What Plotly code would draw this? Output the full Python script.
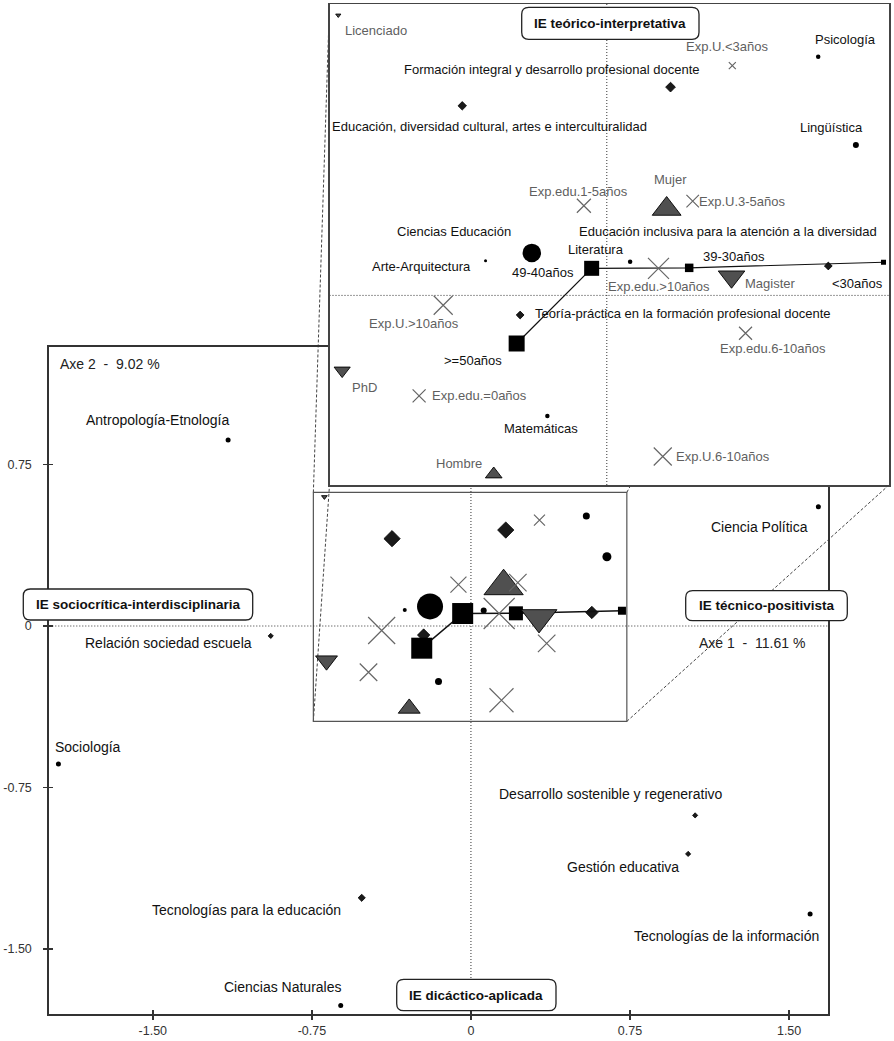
import plotly.graph_objects as go

W, H = 894, 1041

# ---------------- data ----------------
disc_names = ["Antropología-Etnología", "Ciencia Política", "Sociología",
              "Tecnologías de la información", "Ciencias Naturales", "Psicología",
              "Lingüística", "Ciencias Educación", "Arte-Arquitectura", "Literatura",
              "Matemáticas"]
disc_x = [-1.145, 1.638, -1.945, 1.599, -0.614, 0.544, 0.641, -0.193, -0.312, 0.060, -0.153]
disc_y = [0.864, 0.554, -0.641, -1.338, -1.763, 0.511, 0.322, 0.091, 0.074, 0.072, -0.258]

line_names = ["Relación sociedad escuela", "Desarrollo sostenible y regenerativo",
              "Gestión educativa", "Tecnologías para la educación",
              "Educación, diversidad cultural, artes e interculturalidad",
              "Formación integral y desarrollo profesional docente",
              "Teoría-práctica en la formación profesional docente",
              "Educación inclusiva para la atención a la diversidad"]
line_x = [-0.944, 1.057, 1.024, -0.515, -0.372, 0.164, -0.223, 0.570]
line_y = [-0.046, -0.880, -1.059, -1.263, 0.406, 0.446, -0.042, 0.063]

age_names = ["&gt;=50años", "49-40años", "39-30años", "&lt;30años"]
age_x = [-0.232, -0.039, 0.212, 0.712]
age_y = [-0.103, 0.058, 0.059, 0.071]

sex_names = ["Mujer", "Hombre"]
sex_x = [0.154, -0.291]
sex_y = [0.185, -0.383]

deg_names = ["Licenciado", "Magister", "PhD"]
deg_x = [-0.691, 0.321, -0.681]
deg_y = [0.600, 0.040, -0.161]

exp_names = ["Exp.U.&lt;3años", "Exp.U.3-5años", "Exp.U.6-10años", "Exp.U.&gt;10años",
             "Exp.edu.=0años", "Exp.edu.1-5años", "Exp.edu.6-10años", "Exp.edu.&gt;10años"]
exp_x = [0.323, 0.221, 0.144, -0.421, -0.483, -0.059, 0.357, 0.133]
exp_y = [0.492, 0.202, -0.345, -0.021, -0.215, 0.192, -0.081, 0.058]

x_ticks = [-1.5, -0.75, 0, 0.75, 1.5]
x_ticktext = ["-1.50", "-0.75", "0", "0.75", "1.50"]
y_ticks = [-1.5, -0.75, 0, 0.75]
y_ticktext = ["-1.50", "-0.75", "0", "0.75"]

axis1_label = "Axe 1\u00a0\u00a0-\u00a0\u00a011.61 %"
axis2_label = "Axe 2\u00a0\u00a0-\u00a0\u00a09.02 %"
pole_labels = ["IE teórico-interpretativa", "IE sociocrítica-interdisciplinaria",
               "IE técnico-positivista", "IE dicáctico-aplicada"]

# ---------------- styles / geometry ----------------
FONT = "Liberation Sans, Arial, sans-serif"
MAIN_L, MAIN_R, MAIN_T, MAIN_B = 49.3, 827.7, 346.7, 1014.0
INS_L, INS_R, INS_T, INS_B = 329.5, 889.0, 4.0, 485.0
main_xr = [-1.988, 1.682]
main_yr = [-1.803, 1.298]
ins_xr = [-0.7136, 0.7262]
ins_yr = [-0.4060, 0.6240]
zoom_x = [-0.743, 0.735]
zoom_y = [-0.443, 0.621]

disc_size = {"main": [5, 5, 5, 5, 5, 7, 9, 26, 4, 6, 7],
             "ins": [4, 4, 4, 4, 4, 4.5, 6, 18.5, 3, 4.5, 4.5]}
line_size = {"main": [4, 4, 4, 5.5, 12.5, 12.5, 9.5, 9.5],
             "ins": [3, 3, 3, 4, 6.5, 7.5, 6, 6]}
age_size = {"main": [21, 21, 14, 8], "ins": [16, 15, 8.5, 5]}
sex_size = {"main": [34, 19], "ins": [25, 14.5]}
deg_size = {"main": [5, 31, 19], "ins": [4.5, 23, 14]}
exp_size = {"main": [11, 17.5, 24, 27, 17.5, 16, 17.5, 31],
            "ins": [7, 12.5, 18, 19, 13, 14, 13, 21]}

GRAY_T = "#5f5f5f"
DARK_T = "#111111"
gray_labels = set(exp_names + sex_names + deg_names)

# label offsets in pixels (dx, dy downward, anchor)
main_lab = {
    "Antropología-Etnología": (-70.3, -20, "center"),
    "Ciencia Política": (-59, 20.6, "center"),
    "Relación sociedad escuela": (-102.7, 7.3, "center"),
    "Sociología": (-4.3, -17.3, "left"),
    "Tecnologías para la educación": (-19.4, 12.3, "right"),
    "Ciencias Naturales": (2, -18, "right"),
    "Desarrollo sostenible y regenerativo": (-84.3, -21.3, "center"),
    "Gestión educativa": (-8, 13.3, "right"),
    "Tecnologías de la información": (10, 22, "right"),
}
ins_lab = {
    "Licenciado": (38.2, 15.5, "center"),
    "Formación integral y desarrollo profesional docente": (-119, -17.3, "center"),
    "Educación, diversidad cultural, artes e interculturalidad": (27.4, 20.7, "center"),
    "Exp.U.&lt;3años": (-4.5, -19, "center"),
    "Psicología": (27.2, -17.4, "center"),
    "Lingüística": (-24.2, -17.3, "center"),
    "Mujer": (4.2, -29.7, "center"),
    "Exp.edu.1-5años": (-5.7, -14, "center"),
    "Exp.U.3-5años": (5.6, 0, "left"),
    "Ciencias Educación": (-77.7, -21.7, "center"),
    "Arte-Arquitectura": (-64, 5.7, "center"),
    "49-40años": (-48.7, 4, "center"),
    "Literatura": (-34.2, -12.7, "center"),
    "Educación inclusiva para la atención a la diversidad": (-100.5, -34.3, "center"),
    "Exp.edu.&gt;10años": (0.7, 18.4, "center"),
    "39-30años": (44.7, -11, "center"),
    "Magister": (39, 6.6, "center"),
    "&lt;30años": (-25.5, 21.7, "center"),
    "Teoría-práctica en la formación profesional docente": (163.3, -1.7, "center"),
    "Exp.U.&gt;10años": (-29.3, 18.3, "center"),
    "&gt;=50años": (-43.7, 16.7, "center"),
    "PhD": (22.6, 16.7, "center"),
    "Exp.edu.=0años": (12, 0, "left"),
    "Matemáticas": (-6.5, 13, "center"),
    "Hombre": (-35, -10.3, "center"),
    "Exp.edu.6-10años": (27.6, 15, "center"),
    "Exp.U.6-10años": (12.3, 0, "left"),
}

fig = go.Figure()

panels = [("main", "x", "y", main_xr, main_yr, 1.5),
          ("ins", "x2", "y2", ins_xr, ins_yr, 1.2)]

for key, xa, ya, xr, yr, lw in panels:
    # dotted axes through the origin
    fig.add_trace(go.Scatter(x=[0, 0], y=yr, mode="lines", xaxis=xa, yaxis=ya,
                             line=dict(color="#333", width=1, dash="1px,2px"),
                             hoverinfo="skip"))
    fig.add_trace(go.Scatter(x=xr, y=[0, 0], mode="lines", xaxis=xa, yaxis=ya,
                             line=dict(color="#333", width=1, dash="1px,2px"),
                             hoverinfo="skip"))
    fig.add_trace(go.Scatter(x=disc_x, y=disc_y, mode="markers", xaxis=xa, yaxis=ya,
                             text=disc_names, hoverinfo="text",
                             marker=dict(symbol="circle", size=disc_size[key], opacity=1,
                                         color="#000000", line=dict(width=0))))
    fig.add_trace(go.Scatter(x=line_x, y=line_y, mode="markers", xaxis=xa, yaxis=ya,
                             text=line_names, hoverinfo="text",
                             marker=dict(symbol="diamond", size=line_size[key], opacity=1,
                                         color="#1a1a1a", line=dict(color="#000", width=0.8))))
    fig.add_trace(go.Scatter(x=age_x, y=age_y, mode="lines+markers", xaxis=xa, yaxis=ya,
                             text=age_names, hoverinfo="text",
                             line=dict(color="#111111", width=lw),
                             marker=dict(symbol="square", size=age_size[key], opacity=1,
                                         color="#000000", line=dict(width=0))))
    fig.add_trace(go.Scatter(x=sex_x, y=sex_y, mode="markers", xaxis=xa, yaxis=ya,
                             text=sex_names, hoverinfo="text",
                             marker=dict(symbol="triangle-up", size=sex_size[key], opacity=1,
                                         color="#505050", line=dict(color="#000", width=0.9))))
    fig.add_trace(go.Scatter(x=deg_x, y=deg_y, mode="markers", xaxis=xa, yaxis=ya,
                             text=deg_names, hoverinfo="text",
                             marker=dict(symbol="triangle-down", size=deg_size[key], opacity=1,
                                         color="#505050", line=dict(color="#000", width=0.9))))
    fig.add_trace(go.Scatter(x=exp_x, y=exp_y, mode="markers", xaxis=xa, yaxis=ya,
                             text=exp_names, hoverinfo="text",
                             marker=dict(symbol="x-thin", size=exp_size[key], opacity=1,
                                         color="#666666",
                                         line=dict(color="#666666", width=1.2))))

# empty traces that carry the inner half of the crossing tick marks
fig.add_trace(go.Scatter(x=[None], y=[None], xaxis="x3", yaxis="y", hoverinfo="skip"))
fig.add_trace(go.Scatter(x=[None], y=[None], xaxis="x", yaxis="y3", hoverinfo="skip"))

# labels
all_names = disc_names + line_names + age_names + sex_names + deg_names + exp_names
all_x = disc_x + line_x + age_x + sex_x + deg_x + exp_x
all_y = disc_y + line_y + age_y + sex_y + deg_y + exp_y
for n, xv, yv in zip(all_names, all_x, all_y):
    col = GRAY_T if n in gray_labels else DARK_T
    if n in main_lab:
        dx, dy, anc = main_lab[n]
        fig.add_annotation(x=xv, y=yv, xref="x", yref="y", text=n, showarrow=False,
                           xanchor=anc, yanchor="middle", xshift=dx, yshift=-dy,
                           borderpad=0, font=dict(family=FONT, size=14, color=col))
    if n in ins_lab:
        dx, dy, anc = ins_lab[n]
        fig.add_annotation(x=xv, y=yv, xref="x2", yref="y2", text=n, showarrow=False,
                           xanchor=anc, yanchor="middle", xshift=dx, yshift=-dy,
                           borderpad=0, font=dict(family=FONT, size=13, color=col))


def px_x(v):
    return v / W


def px_y(v):
    return 1 - v / H


def main_px(x, y):
    px = MAIN_L + (x - main_xr[0]) / (main_xr[1] - main_xr[0]) * (MAIN_R - MAIN_L)
    py = MAIN_B - (y - main_yr[0]) / (main_yr[1] - main_yr[0]) * (MAIN_B - MAIN_T)
    return px, py


shapes = []
# zoom rectangle
shapes.append(dict(type="rect", xref="x", yref="y", x0=zoom_x[0], x1=zoom_x[1],
                   y0=zoom_y[0], y1=zoom_y[1], layer="below",
                   line=dict(color="#555", width=1.2)))
# connectors from zoom rectangle to inset corners
corners = [((zoom_x[0], zoom_y[1]), (INS_L, INS_T)),
           ((zoom_x[1], zoom_y[1]), (INS_R, INS_T)),
           ((zoom_x[0], zoom_y[0]), (INS_L, INS_B)),
           ((zoom_x[1], zoom_y[0]), (INS_R, INS_B))]
for (bx, by), (ix, iy) in corners:
    p, q = main_px(bx, by)
    shapes.append(dict(type="line", xref="paper", yref="paper",
                       x0=px_x(p), y0=px_y(q), x1=px_x(ix), y1=px_y(iy),
                       layer="below", line=dict(color="#444", width=1, dash="3px,2px")))


def rounded(x0, y0, x1, y1, r):
    pts = [("M", x0 + r, y0), ("L", x1 - r, y0), ("Q", x1, y0, x1, y0 + r),
           ("L", x1, y1 - r), ("Q", x1, y1, x1 - r, y1), ("L", x0 + r, y1),
           ("Q", x0, y1, x0, y1 - r), ("L", x0, y0 + r), ("Q", x0, y0, x0 + r, y0)]
    s = ""
    for p in pts:
        cmd = p[0]
        coords = p[1:]
        parts = []
        for i in range(0, len(coords), 2):
            parts.append(f"{px_x(coords[i]):.5f},{px_y(coords[i + 1]):.5f}")
        s += cmd + " " + " ".join(parts) + " "
    return s + "Z"


pole_boxes = [(521.7, 7.3, 699.0, 39.3), (23.3, 589.0, 252.7, 620.0),
              (685.7, 590.7, 847.3, 620.7), (396.7, 979.3, 556.0, 1010.7)]
for lab, (x0, y0, x1, y1) in zip(pole_labels, pole_boxes):
    shapes.append(dict(type="path", xref="paper", yref="paper", path=rounded(x0, y0, x1, y1, 7),
                       fillcolor="white", layer="above", line=dict(color="#222", width=1.3)))
    fig.add_annotation(x=px_x((x0 + x1) / 2), y=px_y((y0 + y1) / 2), xref="paper", yref="paper",
                       text=f"<b>{lab}</b>", showarrow=False, xanchor="center", yanchor="middle",
                       font=dict(family=FONT, size=13.5, color="#111"))

fig.add_annotation(x=px_x(58), y=px_y(364), xref="paper", yref="paper", text=axis2_label,
                   showarrow=False, xanchor="left", yanchor="middle",
                   font=dict(family=FONT, size=14, color="#222"))
fig.add_annotation(x=px_x(697), y=px_y(643.3), xref="paper", yref="paper", text=axis1_label,
                   showarrow=False, xanchor="left", yanchor="middle",
                   font=dict(family=FONT, size=14, color="#222"))

main_xdom = [MAIN_L / W, MAIN_R / W]
main_ydom = [1 - MAIN_B / H, 1 - MAIN_T / H]
tickfont = dict(family=FONT, size=12.5, color="#333")

fig.update_layout(
    width=W, height=H, margin=dict(l=0, r=0, t=0, b=0),
    paper_bgcolor="white", plot_bgcolor="white", showlegend=False,
    shapes=shapes,
    xaxis=dict(domain=main_xdom, range=main_xr, anchor="y", showline=True, mirror=True,
               linecolor="#333", linewidth=2, ticks="outside", ticklen=4, tickwidth=1.5,
               tickcolor="#333", tickvals=x_ticks, ticktext=x_ticktext, showgrid=False,
               zeroline=False, tickfont=tickfont),
    yaxis=dict(domain=main_ydom, range=main_yr, anchor="x", showline=True, mirror=True,
               linecolor="#333", linewidth=2, ticks="outside", ticklen=4, tickwidth=1.5,
               tickcolor="#333", tickvals=y_ticks, ticktext=y_ticktext, showgrid=False,
               zeroline=False, tickfont=tickfont, ticklabelstandoff=9),
    xaxis3=dict(overlaying="x", range=main_xr, anchor="y", ticks="inside", ticklen=4,
                tickwidth=1.5, tickcolor="#333", tickvals=x_ticks, showticklabels=False,
                showline=False, showgrid=False, zeroline=False),
    yaxis3=dict(overlaying="y", range=main_yr, anchor="x", ticks="inside", ticklen=4,
                tickwidth=1.5, tickcolor="#333", tickvals=y_ticks, showticklabels=False,
                showline=False, showgrid=False, zeroline=False),
    xaxis2=dict(domain=[INS_L / W, INS_R / W], range=ins_xr, anchor="y2", showline=True,
                mirror=True, linecolor="#444", linewidth=1.5, ticks="", showticklabels=False,
                showgrid=False, zeroline=False),
    yaxis2=dict(domain=[1 - INS_B / H, 1 - INS_T / H], range=ins_yr, anchor="x2",
                showline=True, mirror=True, linecolor="#444", linewidth=1.5, ticks="",
                showticklabels=False, showgrid=False, zeroline=False),
)

fig.write_html("out.html", config={"staticPlot": True, "displayModeBar": False},
               post_script="document.body.style.margin='0px';document.body.style.overflow='hidden';")
